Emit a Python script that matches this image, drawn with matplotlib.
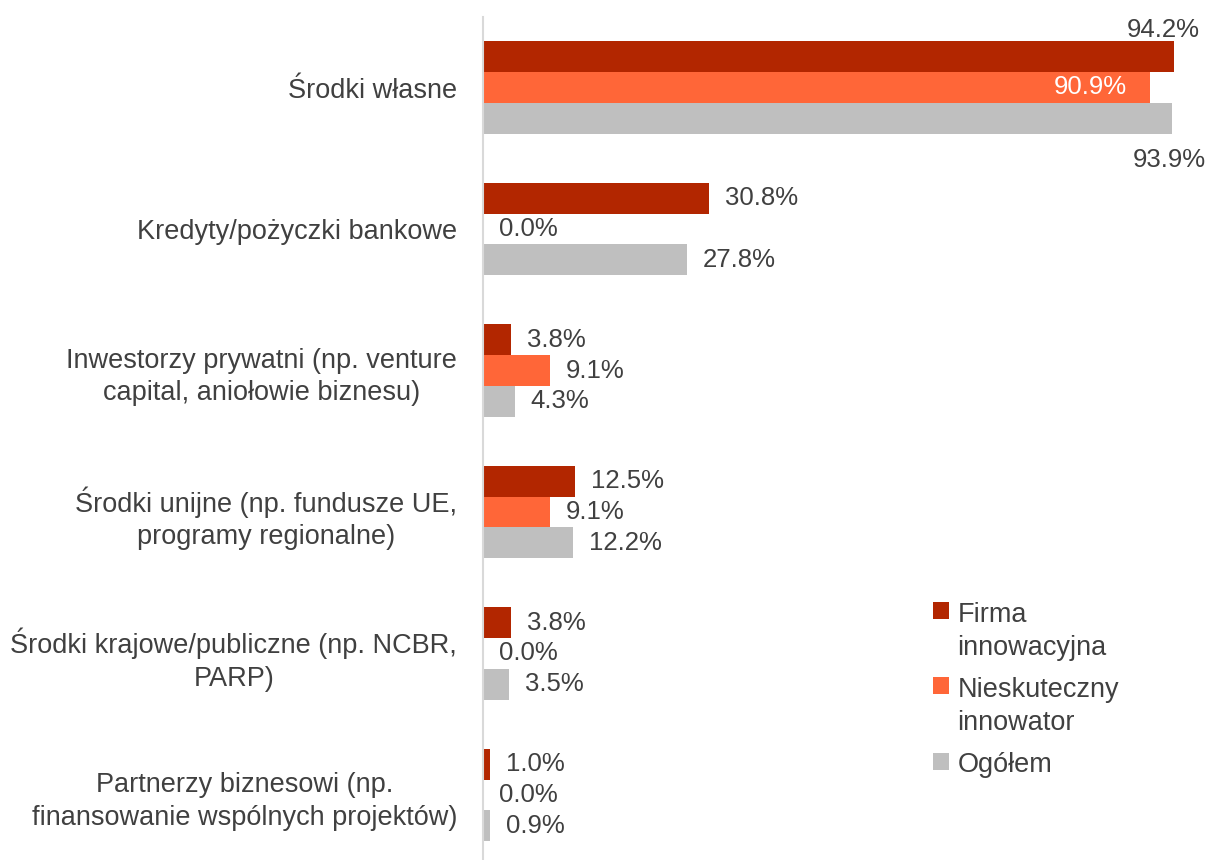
import matplotlib
matplotlib.use("Agg")
import matplotlib.pyplot as plt
import numpy as np

plt.rcParams['font.family'] = ['Liberation Sans', 'DejaVu Sans']

categories = [
    "Środki własne",
    "Kredyty/pożyczki bankowe",
    "Inwestorzy prywatni (np. venture\ncapital, aniołowie biznesu)",
    "Środki unijne (np. fundusze UE,\nprogramy regionalne)",
    "Środki krajowe/publiczne (np. NCBR,\nPARP)",
    "Partnerzy biznesowi (np.\nfinansowanie wspólnych projektów)",
]
series_names = ["Firma\ninnowacyjna", "Nieskuteczny\ninnowator", "Ogółem"]
firma = [94.2, 30.8, 3.8, 12.5, 3.8, 1.0]
nieskuteczny = [90.9, 0.0, 9.1, 9.1, 0.0, 0.0]
ogolem = [93.9, 27.8, 4.3, 12.2, 3.5, 0.9]

colors = ["#B22600", "#FF6638", "#BFBFBF"]
text_color = "#404040"
fs_num = 18.5
fs_txt = 19.5

W, H = 1208, 860
fig = plt.figure(figsize=(W / 100, H / 100), dpi=100)
ax = fig.add_axes([483 / W, (H - 865.75) / H, (W - 483) / W, 849 / H])

y = np.arange(len(categories))
bar_h = 0.219
all_series = [firma, nieskuteczny, ogolem]

for i, (vals, col, name) in enumerate(zip(all_series, colors, series_names)):
    pos = y + (i - 1) * bar_h
    bars = ax.barh(pos, vals, height=bar_h, color=col, label=name)
    for j, (b, v) in enumerate(zip(bars, vals)):
        txt = f"{v:.1f}%"
        # domyślnie etykieta za końcem słupka
        off, ha, c = (11.5, 0), "left", text_color
        if j == 0:
            if i == 0:
                off, ha = (18, 19), "right"
            elif i == 1:
                off, ha, c = (-17, 0), "right", "white"
            else:
                off, ha = (24, -30), "right"
        ax.annotate(txt, xy=(v, b.get_y() + b.get_height() / 2),
                    xytext=off, textcoords="offset points",
                    ha=ha, va="center", fontsize=fs_num, color=c)

ax.set_xlim(0, (W - 483) / 7.34)
ax.set_ylim(len(categories) - 0.5, -0.5)
ax.set_yticks(y)
ax.set_yticklabels(categories, fontsize=fs_txt, color=text_color)
for lbl in ax.get_yticklabels():
    lbl.set_multialignment("center")
    lbl.set_linespacing(1.33)
ax.tick_params(axis="y", length=0, pad=18.5)
ax.set_xticks([])
for s in ["top", "right", "bottom"]:
    ax.spines[s].set_visible(False)
ax.spines["left"].set_color("#D9D9D9")
ax.spines["left"].set_linewidth(1.5)

leg = ax.legend(loc="upper left", bbox_to_anchor=(933 / W, 1 - 602 / H),
                bbox_transform=fig.transFigure, frameon=False, fontsize=fs_txt,
                handlelength=0.6, handleheight=0.6, handletextpad=0.3,
                labelspacing=0.6, borderpad=0, borderaxespad=0)
for t in leg.get_texts():
    t.set_color(text_color)
    t.set_linespacing(1.35)
for col in leg._legend_handle_box.get_children():
    for hp in col.get_children():
        hp.align = "top"

fig.savefig("out.png", dpi=100)
